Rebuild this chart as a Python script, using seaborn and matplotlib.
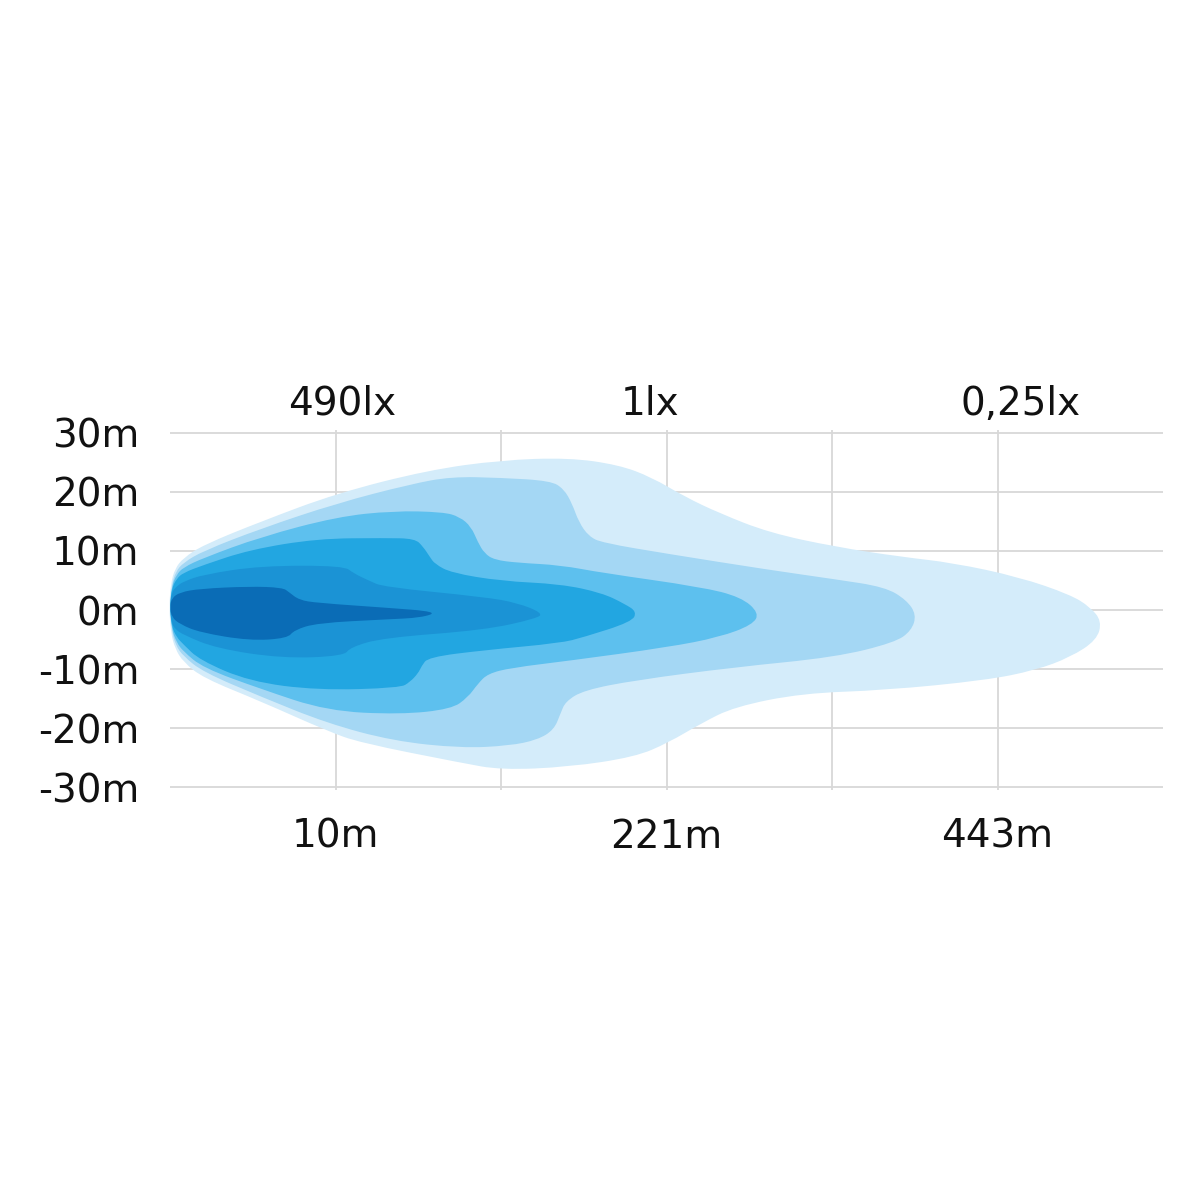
import numpy as np
import pandas as pd
import matplotlib
matplotlib.use('Agg')
import matplotlib.pyplot as plt
from matplotlib.path import Path
from matplotlib.patches import PathPatch
import seaborn as sns

# axis texts
y_ticks = [30, 20, 10, 0, -10, -20, -30]
y_labels = ['30m', '20m', '10m', '0m', '-10m', '-20m', '-30m']
x_grid = [1, 2, 3, 4, 5]
x_labels = ['10m', '', '221m', '', '443m']
lux_labels = ['490lx', '1lx', '0,25lx']
lux_pos = [1.04, 2.90, 5.14]

# isolux zones, outermost first: x in grid units, y = lateral offset in m
zone1_x = [-0.005, 0.005, 0.03, 0.08, 0.2, 0.55, 1.01, 1.56, 2.0, 2.41, 2.71, 2.91, 3.11, 3.32, 3.62,
           4.02, 4.42, 4.73, 5.13, 5.44, 5.56, 5.63, 5.60, 5.44, 5.23, 4.93, 4.32, 3.82, 3.41, 3.21,
           3.01, 2.81, 2.41, 2.0, 1.76, 1.15, 0.95, 0.55, 0.2, 0.08, 0.03, 0.005]
zone1_y = [0.5, 4.5, 7.0, 8.8, 11.0, 15.0, 19.8, 23.7, 25.4, 25.8, 24.6, 22.5, 19.2, 16.4, 13.1,
           10.7, 9.0, 8.0, 5.6, 2.6, 0.5, -1.9, -5.1, -8.0, -10.2, -11.9, -13.6, -14.1, -16.4, -19.2,
           -22.5, -24.9, -26.6, -27.1, -25.9, -22.5, -20.5, -15.5, -11.5, -8.8, -6.5, -3.8]

zone2_x = [0.0, 0.01, 0.035, 0.08, 0.2, 0.55, 1.01, 1.45, 1.70, 2.0, 2.30, 2.38, 2.43, 2.47, 2.53,
           2.61, 3.01, 3.62, 4.02, 4.32, 4.45, 4.51, 4.48, 4.38, 4.02, 3.41, 2.81, 2.50, 2.39, 2.36,
           2.32, 2.22, 2.05, 1.76, 1.35, 0.95, 0.55, 0.2, 0.08, 0.035, 0.01]
zone2_y = [0.5, 4.2, 6.5, 8.0, 10.0, 13.8, 18.1, 21.3, 22.6, 22.4, 21.9, 20.5, 18.0, 14.9, 12.5,
           11.4, 9.5, 6.8, 5.2, 3.9, 1.7, -0.8, -3.5, -5.5, -8.0, -9.7, -11.9, -13.6, -15.5, -17.5,
           -20.3, -22.0, -23.0, -23.4, -22.2, -19.2, -14.7, -10.5, -7.8, -6.0, -3.5]

zone3_x = [0.0, 0.01, 0.04, 0.08, 0.2, 0.55, 1.01, 1.35, 1.65, 1.75, 1.82, 1.86, 1.90, 1.96, 2.1,
           2.36, 2.61, 3.21, 3.45, 3.56, 3.52, 3.32, 3.01, 2.41, 2.06, 1.92, 1.86, 1.80, 1.70, 1.39,
           0.95, 0.55, 0.2, 0.08, 0.04, 0.01]
zone3_y = [0.5, 4.0, 6.0, 7.2, 8.8, 12.4, 15.8, 16.8, 16.6, 15.8, 14.1, 11.5, 9.6, 8.5, 8.0,
           7.6, 6.3, 3.9, 2.2, -0.5, -2.5, -4.6, -6.3, -8.6, -9.8, -10.8, -12.5, -14.8, -16.8, -17.7,
           -17.1, -13.4, -9.8, -7.0, -5.5, -3.2]

zone4_x = [0.0, 0.01, 0.04, 0.08, 0.2, 0.48, 0.89, 1.3, 1.48, 1.53, 1.57, 1.60, 1.70, 2.0, 2.36,
           2.61, 2.75, 2.82, 2.79, 2.50, 2.36, 1.90, 1.56, 1.52, 1.50, 1.45, 1.39, 0.89, 0.48, 0.18,
           0.08, 0.04, 0.01]
zone4_y = [0.5, 3.6, 5.3, 6.3, 7.6, 10.2, 12.1, 12.2, 12.1, 10.7, 9.0, 7.8, 6.3, 4.9, 4.4,
           2.9, 1.0, -0.3, -2.0, -4.6, -5.6, -6.8, -8.0, -9.5, -10.7, -12.2, -13.2, -13.6, -12.1, -8.5,
           -5.8, -4.6, -2.8]

zone5_x = [0.0, 0.01, 0.04, 0.08, 0.2, 0.55, 1.05, 1.11, 1.2, 1.29, 1.9, 2.1, 2.25, 2.22, 1.90,
           1.29, 1.09, 1.05, 0.68, 0.28, 0.08, 0.03, 0.01]
zone5_y = [0.5, 3.0, 4.0, 4.8, 6.0, 7.5, 7.5, 6.2, 5.0, 3.9, 2.2, 1.2, -0.5, -1.4, -3.4,
           -4.7, -6.3, -7.8, -8.2, -6.5, -4.2, -3.2, -2.2]

zone6_x = [0.0, 0.01, 0.06, 0.18, 0.48, 0.68, 0.72, 0.78, 0.89, 1.3, 1.62, 1.52, 1.3, 0.89, 0.75,
           0.71, 0.48, 0.18, 0.06, 0.01]
zone6_y = [0.5, 2.0, 3.0, 3.6, 4.0, 3.8, 3.0, 1.7, 1.2, 0.4, -0.3, -1.3, -1.6, -2.2, -3.4,
           -4.8, -5.2, -3.8, -2.4, -1.2]

zones = [(zone1_x, zone1_y), (zone2_x, zone2_y), (zone3_x, zone3_y),
         (zone4_x, zone4_y), (zone5_x, zone5_y), (zone6_x, zone6_y)]
zone_colors = ['#d4ecfa', '#a4d7f4', '#5dc0ee', '#22a6e1', '#1b93d5', '#0a6cb6']


def smooth_outline(xs, ys):
    # closed quadratic b-spline path using the outline points as control points
    pts = np.column_stack([xs, ys])
    mids = (pts + np.roll(pts, -1, axis=0)) / 2
    verts = [mids[-1]]
    codes = [Path.MOVETO]
    for i in range(len(pts)):
        verts += [pts[i], mids[i]]
        codes += [Path.CURVE3, Path.CURVE3]
    return Path(verts, codes)


sns.set_theme(style='white')
plt.rcParams['font.family'] = ['DejaVu Sans']

fig = plt.figure(figsize=(12, 12), dpi=100)
ax = fig.add_axes([170 / 1200, 1 - 790 / 1200, 993 / 1200, 360 / 1200])

for (zx, zy), col in zip(zones, zone_colors):
    patch = PathPatch(smooth_outline(zx, zy), facecolor=col, edgecolor='none', zorder=2, clip_on=False)
    ax.add_patch(patch)

ax.set_xlim(0, 6.0)
ax.set_ylim(-30.5, 30.5)
ax.set_yticks(y_ticks)
ax.set_yticklabels(y_labels)
ax.set_xticks(x_grid)
ax.set_xticklabels(x_labels)
ax.grid(True, color='#d8d8d8', lw=1.3, zorder=0)
ax.set_axisbelow(True)
ax.tick_params(axis='both', length=0, labelsize=28, labelcolor='#111111')
ax.tick_params(axis='y', pad=22)
ax.tick_params(axis='x', pad=20)
sns.despine(ax=ax, left=True, bottom=True)

for p, t in zip(lux_pos, lux_labels):
    ax.text(p, 1.042, t, transform=ax.get_xaxis_transform(), ha='center', va='baseline',
            fontsize=28, color='#111111')

fig.savefig('out.png', dpi=100, facecolor='white')
plt.close(fig)
